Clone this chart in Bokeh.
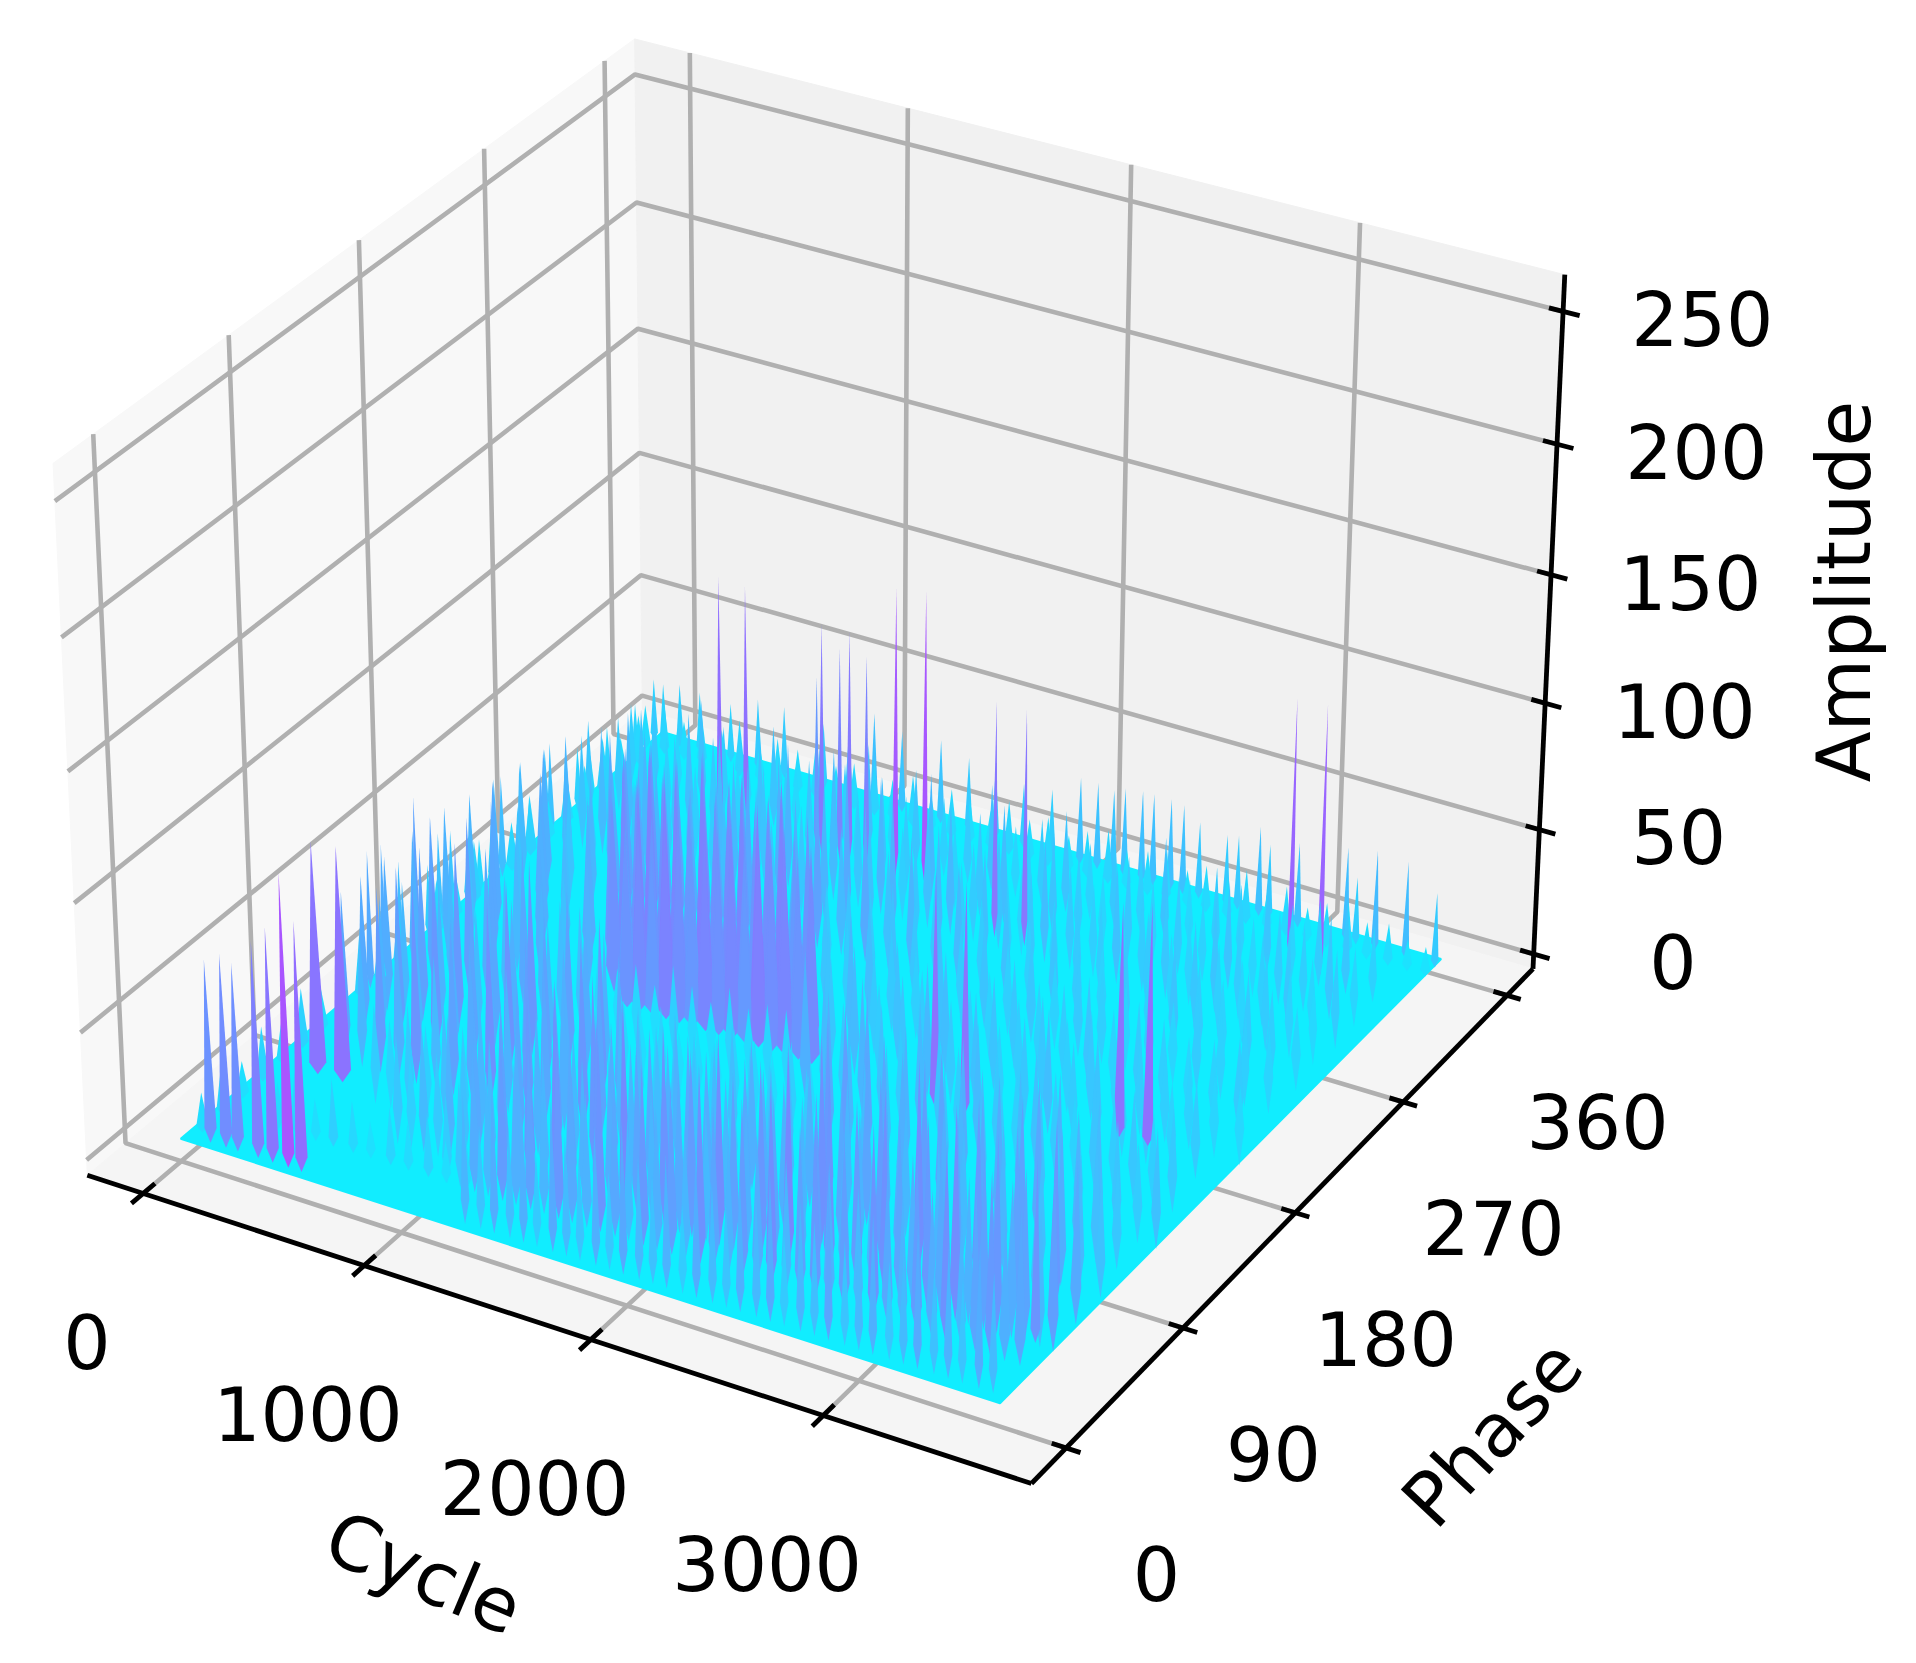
import numpy as np
from bokeh.plotting import figure
from bokeh.embed import file_html
from bokeh.resources import INLINE
from bokeh.core.properties import value

# ---------- tick labels / limits ----------
CYCLE_TICKS = [0, 1000, 2000, 3000]
PHASE_TICKS = [0, 90, 180, 270, 360]
AMP_TICKS = [0, 50, 100, 150, 200, 250]
CYCLE_LIM = (-257, 3874)
PHASE_LIM = (-26, 383)
AMP_LIM = (-6, 263.7)
READ_CYCLE = -27
READ_PHASE = -3
CARPET_CYCLE = (50, 3640)
CARPET_PHASE = (0, 356)
CARPET_LEVEL = 5

# ---------- spike readings, row by row (phase, cycles, amplitudes) ----------
C354 = [23,68,147,243,390,520,644,830,949,1068,1198,1379,1509,1633,1763,1893,2023,2102,2175,2226,2305,2356,2435,2492,2565,2689,2740,2836,2881,3011,3226,3271,3356,3492,3622]
A354 = [27,26,28,27,26,31,31,29,28,39,35,36,32,32,28,29,37,37,36,38,39,39,39,38,33,31,32,38,32,36,40,29,42,41,32]
C346 = [30,120,215,300,395,480,575,660,755,840,935,1020,1115,1200,1295,1380,1475,1560,1655,1740,1835,1920,2015,2100,2195,2280,2375,2460,2555,2640,2735,2820,2915,3000,3095,3180,3275,3360,3455,3540,3620]
A346 = [20,24,18,23,19,25,17,22,20,24,18,21,25,19,23,17,22,20,18,24,19,22,17,21,24,18,20,23,17,21,19,24,18,22,16,20,23,17,19,15,14]
C338 = [3062,3196]
A338 = [102,103]
C330 = [60,170,280,395,500,610,735,840,950,1070,1180,1290,1400,1530,1640,1750,1860,1980,2090,2200,2310,2430,2540,2650,2770,2880,3000,3110,3230,3350,3470,3590]
A330 = [28,34,24,38,30,26,36,22,33,29,40,25,35,27,31,38,24,30,36,26,33,28,37,23,31,27,35,25,30,34,26,22]
C320 = [540,664,996,1019,1103,1148,1227,1362,1498]
A320 = [96,95,67,89,81,89,81,111,113]
C315 = [90,200,320,425,540,655,760,880,990,1105,1215,1330,1440,1555,1665,1780,1890,2005,2115,2230,2340,2455,2565,2680,2790,2905,3015,3130,3240,3355,3465,3580]
A315 = [30,36,28,40,33,26,38,30,35,42,28,37,32,44,26,34,40,28,36,30,24,34,28,32,26,36,24,30,28,34,24,28]
C300 = [40,130,230,345,450,545,660,770,865,980,1085,1190,1305,1410,1510,1625,1730,1835,1950,2055,2160,2275,2380,2485,2600,2705,2810,2925,3030,3135,3250,3355,3460,3570]
A300 = [34,26,42,30,38,28,44,32,36,48,30,42,34,46,28,38,44,30,36,26,40,32,28,38,30,34,26,36,30,28,34,24,30,26]
C299 = [1938,2074]
A299 = [90,90]
C285 = [100,195,300,400,505,610,715,815,920,1025,1130,1235,1340,1445,1550,1655,1760,1865,1970,2075,2180,2285,2390,2495,2600,2705,2810,2915,3020,3125,3230,3335,3440,3545]
A285 = [36,42,30,46,34,40,30,44,36,50,34,46,54,38,48,34,42,30,38,28,34,26,32,30,24,32,26,34,28,24,30,26,22,28]
C265 = [50,150,265,360,470,575,680,790,890,1000,1110,1220,1320,1430,1540,1645,1750,1860,1965,2070,2180,2285,2395,2500,2610,2715,2820,2930,3040,3145,3255,3360,3470,3580]
A265 = [38,46,30,52,36,44,32,50,40,56,36,48,60,42,54,38,46,34,42,30,38,28,36,32,26,34,28,36,30,26,32,28,24,30]
C245 = [60,170,285,390,494,554,614,674,734,794,854,914,974,1034,1094,1154,1214,1274,1334,1394,1480,1580,1680,1780,1880,1985,2090,2195,2300,2405,2510,2615,2720,2825,2930,3035,3140,3245,3350,3455,3560]
A245 = [42,50,36,46,50,60,54,66,58,62,52,68,56,60,64,54,58,66,50,44,30,36,32,38,34,40,30,36,28,34,26,32,28,26,32,24,30,26,28,24,22]
C225 = [60,170,280,390,500,610,670,730,790,850,910,970,1030,1090,1150,1210,1270,1330,1390,1450,1510,1590,1690,1790,1890,2000,2110,2220,2330,2440,2550,2660,2770,2880,2990,3100,3210,3320,3430,3540]
A225 = [44,36,52,40,48,58,70,62,76,66,72,60,78,64,70,74,62,68,76,58,66,36,30,40,32,28,38,30,26,34,28,30,36,26,32,28,24,26,30,24]
C207 = [60,170,280,390,500,610,716,776,836,896,956,1016,1076,1136,1196,1256,1316,1376,1436,1496,1556,1616,1710,1810,1915,2020,2130,2235,2345,2450,2560,2665,2775,2880,2990,3095,3205,3310,3420,3530]
A207 = [46,54,40,50,44,52,66,76,70,82,74,78,68,84,72,76,80,70,74,82,66,70,36,44,32,38,30,40,28,36,30,34,28,34,26,30,28,26,24,22]
C190 = [50,160,270,380,490,600,710,1820,1925,2035,2140,2250,2355,2465,2570,2680,2785,2895,3000,3110,3215,3325,3430,3540]
A190 = [48,40,56,44,52,38,50,34,42,30,36,44,32,38,28,34,40,30,36,28,32,26,30,24]
C190B = [830,890,950,1010,1070,1130,1190,1250,1310,1370,1430,1490,1550,1610,1670,1730]
A190B = [72,64,80,70,84,74,66,82,72,78,68,86,74,80,70,76]
C185 = [3125,3250]
A185 = [93,96]
C172 = [1000,1058,1118,1178,1238,1298,1358,1418,1478,1538,1598,1658,1718,1778,1838]
A172 = [70,76,66,82,74,68,80,72,78,66,84,74,80,70,76]
C171 = [2392,2525]
A171 = [93,92]
C165 = [60,145,230,315,400,485,570,655,740,830,915,1000,1085,1170,1255,1340,1425,1510,1595,1680,1765,1850,1935,2020,2105,2190,2275,2360,2445,2530,2615,2700,2785,2870,2955,3040,3125,3210,3295,3380,3465,3550]
A165 = [50,58,46,62,52,44,56,48,40,40,26,20,24,18,28,22,18,26,20,24,24,50,42,34,46,38,32,44,36,30,42,34,28,38,32,26,36,30,34,28,32,24]
C140 = [90,170,255,340,420,510,590,675,760,840,930,1010,1095,1180,1260,1350,1430,1515,1600,1680,1770,1850,1935,2020,2100,2190,2270,2355,2440,2520,2610,2690,2775,2860,2940,3030,3110,3195,3280,3360,3450,3530]
A140 = [52,44,60,48,66,42,56,50,68,46,60,52,48,24,20,26,18,22,20,26,24,20,28,22,52,44,56,38,48,42,36,50,40,34,44,38,48,32,42,36,30,38]
C120 = [110,195,275,360,445,525,615,695,780,860,950,1035,1115,1200,1285,1370,1450,1535,1620,1700,1790,1870,1955,2040,2120,2210,2290,2375,2460,2540,2630,2710,2795,2880,2960,3050,3130,3215,3300,3380,3470,3550]
A120 = [54,48,62,46,68,50,58,52,70,44,60,50,46,66,54,36,30,38,32,28,40,34,30,38,32,48,62,42,54,50,40,58,46,38,52,44,56,36,48,40,34,42]
C100 = [150,230,315,400,480,570,650,735,820,900,990,1070,1155,1240,1320,1410,1490,1575,1660,1740,1830,1910,1995,2080,2160,2250,2330,2415,2500,2580,2670,2750,2835,2920,3000,3090,3170,3255,3340,3420,3510,3590]
A100 = [58,46,64,50,70,44,60,54,72,48,62,56,50,68,58,46,46,40,48,38,44,36,50,42,46,50,66,46,58,52,44,62,50,42,56,46,60,40,52,44,38,46]
C80 = [420,490,575,655,740,825,905,995,1075,1160,1245,1325,1415,1495,1580,1665,1745,1835,1915,2000,2085,2165,2255,2335,2420,2505,2585,2675,2755,2840,2925,3005,3095,3175,3260,3345,3425,3515,3595]
A80 = [30,26,34,28,40,32,46,38,56,48,62,44,68,52,46,54,50,56,52,44,54,52,50,46,72,56,48,64,52,74,46,58,66,50,60,44,68,54,42]
C72 = [206,320]
A72 = [92,93]
C60 = [650,712,768,833,887,952,1008,1073,1128,1193,1247,1312,1368,1433,1488,1553,1608,1672,1729,1792,1848,1913,1968,2032,2089,2152,2208,2273,2329,2392,2448,2513,2569,2632,2688,2753,2809,2872,2928,2993,3049,3112,3168,3233,3289,3352,3408,3473,3529,3592]
A60 = [34,28,42,32,48,38,54,44,60,50,66,46,72,56,48,68,52,76,58,46,70,54,64,44,74,60,50,68,56,78,48,62,70,52,64,46,72,58,50,66,54,74,48,60,68,52,58,44,62,40]
C49 = [3515]
A49 = [70]
C40 = [1000,1060,1125,1185,1250,1310,1375,1435,1500,1560,1625,1685,1750,1810,1875,1935,2000,2060,2125,2185,2250,2310,2375,2435,2500,2560,2625,2685,2750,2810,2875,2935,3000,3060,3125,3185,3250,3310,3375,3435,3500,3560,3610]
A40 = [30,36,52,44,64,50,60,46,68,54,48,70,56,44,66,50,62,46,72,58,48,64,52,74,46,60,66,50,62,44,70,56,48,64,52,72,46,58,66,50,56,42,36]
C30 = [300,380,470,550,640,720,810,890,980,1060,1150]
A30 = [20,26,18,28,22,16,24,20,27,18,23]
C18 = [1220,1290,1350,1420,1480,1540,1610,1670,1730,1800,1860,1920,1990,2050,2110,2180,2240,2310,2370,2430,2500,2560,2620,2690,2750,2810,2880,2940,3000,3070,3130,3190,3260,3320,3380,3450,3510,3570,3625]
A18 = [46,36,52,40,50,32,54,42,36,50,34,56,44,38,48,30,52,42,36,50,44,54,32,46,40,58,36,44,50,34,42,54,38,48,36,52,42,32,30]
C12 = [107,178,232,325,391,462,522]
A12 = [71,75,73,84,91,114,97]
EDGE_CYCLE = 30
EDGE_PHASE = [137,147,159,171,180,188,197,209,218,227,235,249,256,272,284,293,303,316,338]
EDGE_AMP = [54,52,40,60,29,38,35,20,22,24,40,39,23,37,30,26,18,24,24]
EDGE2_CYCLE = 70
EDGE2_PHASE = [12,26,40,54,68,82,96,110,124,138,152,166,180,194,208,222,236,250,264,278,292,306,320,334]
EDGE2_AMP = [18,22,17,24,20,26,19,23,28,21,25,18,24,20,27,19,22,26,18,23,20,25,19,22]

# phase, cycles, amplitudes, half width and lower taper of each row, in px of the 1568 px view
ROWS = [
    (354, C354, A354, 3.0, 6), (346, C346, A346, 5.0, 6), (338, C338, A338, 2.5, 20), (330, C330, A330, 3.5, 20),
    (320, C320, A320, 2.5, 20), (315, C315, A315, 3.5, 26), (300, C300, A300, 3.5, 30), (299, C299, A299, 2.5, 20),
    (285, C285, A285, 3.5, 30), (265, C265, A265, 4.0, 30), (245, C245, A245, 5.5, 30), (225, C225, A225, 5.5, 30),
    (207, C207, A207, 5.5, 30), (190, C190, A190, 4.0, 30), (190, C190B, A190B, 6.5, 22), (185, C185, A185, 4.5, 8),
    (172, C172, A172, 6.5, 8), (171, C171, A171, 4.0, 10), (165, C165, A165, 4.5, 30), (140, C140, A140, 4.5, 30),
    (120, C120, A120, 4.5, 30), (100, C100, A100, 4.5, 30), (80, C80, A80, 4.5, 30), (72, C72, A72, 7.0, 10),
    (60, C60, A60, 4.5, 30), (49, C49, A49, 4.0, 12), (40, C40, A40, 4.5, 22), (30, C30, A30, 5.0, 8),
    (18, C18, A18, 3.5, 20), (12, C12, A12, 5.0, 12),
]

# ---------- default 3-D view (elev 30, azim -60) ----------
BOX = np.array([1.1905, 1.1905, 0.8929])
U = np.array([0.8660254, 0.5, 0.0])
V = np.array([-0.25, 0.4330127, 0.8660254])
W = np.array([0.4330127, -0.75, 0.5])
PX = 1 / 7435.0
SCALE = 9085.0
ORIGIN_X = 831.0
ORIGIN_Y = 734.0


def project(c, p, z):
    c, p, z = np.asarray(c, float), np.asarray(p, float), np.asarray(z, float)
    d = np.stack([(c - CYCLE_LIM[0]) / (CYCLE_LIM[1] - CYCLE_LIM[0]) - 0.5,
                  (p - PHASE_LIM[0]) / (PHASE_LIM[1] - PHASE_LIM[0]) - 0.5,
                  (z - AMP_LIM[0]) / (AMP_LIM[1] - AMP_LIM[0]) - 0.5], axis=-1) * BOX
    depth = 10 - d @ W
    return d @ U / depth, d @ V / depth, depth


def cool(t):
    t = float(np.clip(t, 0, 1))
    return "#%02x%02x%02x" % (int(255 * t), int(255 * (1 - t)), 255)


def colour(a):
    return cool(0.03 + a / 180.0)


p = figure(width=1900, height=1647, output_backend="svg", toolbar_location=None,
           x_range=((8 - ORIGIN_X) / SCALE, (1908 - ORIGIN_X) / SCALE),
           y_range=((ORIGIN_Y - 1655) / SCALE, (ORIGIN_Y - 8) / SCALE),
           min_border=0, background_fill_color="white", border_fill_color="white")
p.axis.visible = False
p.grid.visible = False
p.outline_line_color = None
x0, x1 = CYCLE_LIM
y0, y1 = PHASE_LIM
z0, z1 = AMP_LIM


def pane(cs, ps, zs, col):
    a, b, _ = project(cs, ps, zs)
    p.patch(list(a), list(b), fill_color=col, line_color=col, line_width=1)


pane([x0, x0, x0, x0], [y0, y1, y1, y0], [z0, z0, z1, z1], "#f8f8f8")
pane([x0, x1, x1, x0], [y1, y1, y1, y1], [z0, z0, z1, z1], "#f1f1f1")
pane([x0, x1, x1, x0], [y0, y0, y1, y1], [z0, z0, z0, z0], "#f5f5f5")


def seg(cs, ps, zs, col="#b0b0b0", w=4.6):
    a, b, _ = project(cs, ps, zs)
    p.line(list(a), list(b), line_color=col, line_width=w)


for c in CYCLE_TICKS:
    seg([c, c, c], [y0, y1, y1], [z0, z0, z1])
for ph in PHASE_TICKS:
    seg([x1, x0, x0], [ph, ph, ph], [z0, z0, z1])
for z in AMP_TICKS:
    seg([x0, x0, x1], [y0, y1, y1], [z, z, z])

# black axes and ticks
seg([x0, x1], [y0, y0], [z0, z0], "black", 4.8)
seg([x1, x1], [y0, y1], [z0, z0], "black", 4.8)
seg([x1, x1], [y1, y1], [z0, z1], "black", 4.8)
for c in CYCLE_TICKS:
    seg([c, c], [y0 - 8, y0 + 8], [z0, z0], "black", 4.8)
for ph in PHASE_TICKS:
    seg([x1 - 60, x1 + 60], [ph, ph], [z0, z0], "black", 4.8)
for z in AMP_TICKS:
    seg([x1 - 60, x1 + 70], [y1, y1], [z, z], "black", 4.8)

# carpet
a, b, _ = project(np.array([CARPET_CYCLE[0], CARPET_CYCLE[1], CARPET_CYCLE[1], CARPET_CYCLE[0]]) + READ_CYCLE,
                  np.array([CARPET_PHASE[0], CARPET_PHASE[0], CARPET_PHASE[1], CARPET_PHASE[1]]) + READ_PHASE,
                  [CARPET_LEVEL] * 4)
p.patch(list(a), list(b), fill_color=cool(0.07), line_color=cool(0.07), line_width=2)

# spikes, painter-sorted back to front
spikes = []
for ph, cs, amps, hw, tail in ROWS:
    for c, am in zip(cs, amps):
        if c > 3530 and ph < 340:
            continue
        spikes.append((c, ph, am, hw if am >= 50 else min(hw, 4.0), tail))
for ph, am in zip(EDGE_PHASE, EDGE_AMP):
    spikes.append((EDGE_CYCLE, ph, am, 3.0, 12))
for ph, am in zip(EDGE2_PHASE, EDGE2_AMP):
    spikes.append((EDGE2_CYCLE, ph, am, 5.0, 6))

xs, ys, cols, dep = [], [], [], []
for c, ph, am, hw, tail in spikes:
    c, ph = c + READ_CYCLE, ph + READ_PHASE
    bx, by, d = project(c, ph, CARPET_LEVEL)
    tx, ty, _ = project(c, ph, am)
    xs.append([float(tx), float(bx + hw * PX), float(bx), float(bx - hw * PX)])
    ys.append([float(ty), float(by), float(by - tail * PX), float(by)])
    cols.append(colour(am))
    dep.append(float(d))
order = np.argsort(dep)[::-1]
p.patches([xs[i] for i in order], [ys[i] for i in order],
          fill_color=[cols[i] for i in order], line_color=None)


def label(pos, text, off, angle=0.0):
    lx, ly, _ = project(*pos)
    p.text([float(lx + off[0] * PX)], [float(ly - off[1] * PX)], text=[text], angle=angle,
           text_font=value("DejaVu Sans"), text_font_size="74.5px", text_color="black",
           text_align="center", text_baseline="middle")


for c in CYCLE_TICKS:
    label((c, y0, z0), str(c), (-46, 121))
for ph in PHASE_TICKS:
    label((x1, ph, z0), str(ph), (74, 103))
for z in AMP_TICKS:
    label((x1, y1, z), str(z), (114, 6))
label((sum(CYCLE_LIM) / 2, y0, z0), "Cycle", (-101, 203), -0.40)
label((x1, sum(PHASE_LIM) / 2, z0), "Phase", (163, 179), 0.82)
label((x1, y1, sum(AMP_LIM) / 2), "Amplitude", (242, -31), np.pi / 2)

open("out.html", "w").write(file_html(p, INLINE))
